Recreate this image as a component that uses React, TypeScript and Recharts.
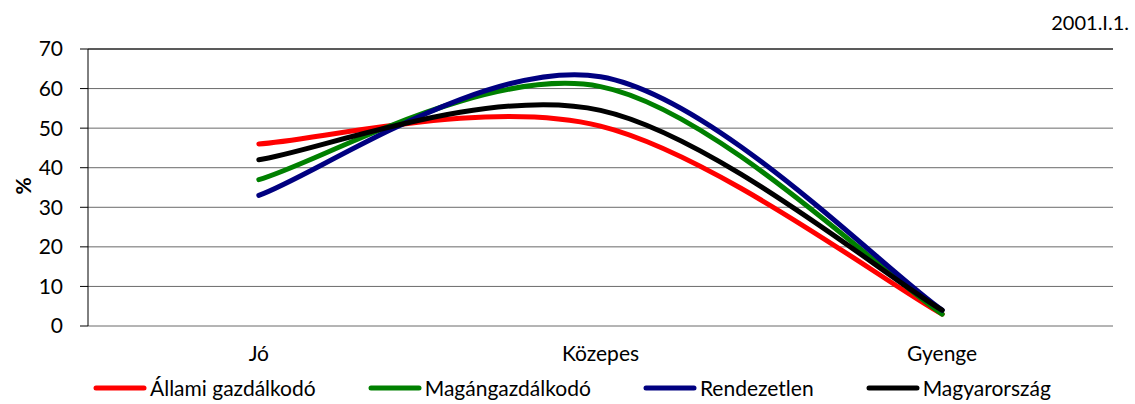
import React from 'react';
import {
  LineChart,
  Line,
  XAxis,
  YAxis,
  CartesianGrid,
  ReferenceLine,
} from 'recharts';

const categories = ['Jó', 'Közepes', 'Gyenge'];
const allami = [46, 50.5, 3];
const magan = [37, 60.5, 3];
const rendezetlen = [33, 63, 4];
const magyarorszag = [42, 54.5, 4];
const yTicks = [0, 10, 20, 30, 40, 50, 60, 70];
const boundaryTicks = [0, 1, 2, 3];
const dateLabel = '2001.I.1.';
const yLabel = '%';

const seriesList = [
  { key: 'allami', name: 'Állami gazdálkodó', color: '#FF0000', values: allami },
  { key: 'magan', name: 'Magángazdálkodó', color: '#008000', values: magan },
  { key: 'rendezetlen', name: 'Rendezetlen', color: '#000080', values: rendezetlen },
  { key: 'magyarorszag', name: 'Magyarország', color: '#000000', values: magyarorszag },
];

const data = categories.map((c, i) => {
  const row: Record<string, string | number> = { cat: c };
  seriesList.forEach((s) => {
    row[s.key] = s.values[i];
  });
  return row;
});

// Excel-like smoothed line (Catmull-Rom Bezier)
const excelSmooth = (context: any) => {
  let pts: number[][] = [];
  return {
    areaStart() {},
    areaEnd() {},
    lineStart() {
      pts = [];
    },
    point(x: number, y: number) {
      pts.push([+x, +y]);
    },
    lineEnd() {
      const n = pts.length;
      if (!n) return;
      context.moveTo(pts[0][0], pts[0][1]);
      if (n === 1) return;
      for (let i = 0; i < n - 1; i++) {
        const p0 = pts[Math.max(i - 1, 0)];
        const p1 = pts[i];
        const p2 = pts[i + 1];
        const p3 = pts[Math.min(i + 2, n - 1)];
        const c1x = p1[0] + (p2[0] - p0[0]) / 6;
        const c1y = p1[1] + (p2[1] - p0[1]) / 6;
        const c2x = p2[0] - (p3[0] - p1[0]) / 6;
        const c2y = p2[1] - (p3[1] - p1[1]) / 6;
        context.bezierCurveTo(c1x, c1y, c2x, c2y, p2[0], p2[1]);
      }
    },
  };
};

const FONT = 'Lato, "Open Sans", sans-serif';
const W = 1135;
const H = 404;
const M = { top: 49, right: 22, bottom: 48, left: 0 };
const Y_AXIS_W = 88;
const plotW = W - M.left - M.right - Y_AXIS_W;
const halfBand = plotW / categories.length / 2;

const LegendBar = () => (
  <div
    style={{
      position: 'absolute',
      left: 93,
      top: 375,
      display: 'flex',
      alignItems: 'center',
      fontFamily: FONT,
      fontSize: 21,
      color: '#000',
      whiteSpace: 'nowrap',
    }}
  >
    {seriesList.map((s, i) => (
      <div
        key={s.key}
        style={{ display: 'flex', alignItems: 'center', marginRight: i < seriesList.length - 1 ? 52 : 0 }}
      >
        <svg width={54} height={10} style={{ marginRight: 3 }}>
          <line x1={3} y1={5} x2={51} y2={5} stroke={s.color} strokeWidth={5} strokeLinecap="round" />
        </svg>
        <span>{s.name}</span>
      </div>
    ))}
  </div>
);

export default function App() {
  return (
    <div style={{ position: 'absolute', left: 0, top: 0, width: W, height: H, background: '#fff' }}>
      <LineChart width={W} height={H} data={data} margin={M}>
        <CartesianGrid horizontal vertical={false} stroke="#6a6a6a" strokeWidth={1} />
        <XAxis
          xAxisId="bounds"
          type="number"
          domain={[0, 3]}
          ticks={boundaryTicks}
          tick={false}
          tickSize={7}
          height={0}
          axisLine={{ stroke: '#000', strokeWidth: 1.2 }}
          tickLine={{ stroke: '#000' }}
          allowDataOverflow
        />
        <XAxis
          dataKey="cat"
          type="category"
          padding={{ left: halfBand, right: halfBand }}
          axisLine={false}
          tickLine={false}
          tickSize={0}
          tickMargin={20}
          height={30}
          tick={{ fontFamily: FONT, fontSize: 21, fill: '#000' }}
          interval={0}
        />
        <YAxis
          domain={[0, 70]}
          ticks={yTicks}
          width={Y_AXIS_W}
          tickSize={8}
          tickMargin={17}
          axisLine={{ stroke: '#000' }}
          tickLine={{ stroke: '#000' }}
          tick={{ fontFamily: FONT, fontSize: 21, fill: '#000' }}
          interval={0}
        />
        <ReferenceLine y={70} stroke="#000" />
        <ReferenceLine x={3} xAxisId="bounds" stroke="#000" />
        {seriesList.map((s) => (
          <Line
            key={s.key}
            dataKey={s.key}
            name={s.name}
            stroke={s.color}
            strokeWidth={5}
            strokeLinecap="round"
            type={excelSmooth as any}
            dot={false}
            activeDot={false}
            isAnimationActive={false}
          />
        ))}
      </LineChart>
      <div
        style={{
          position: 'absolute',
          left: 12,
          top: 176,
          width: 20,
          height: 20,
          display: 'flex',
          alignItems: 'center',
          justifyContent: 'center',
          transform: 'rotate(-90deg)',
          fontFamily: FONT,
          fontWeight: 'bold',
          fontSize: 21,
        }}
      >
        {yLabel}
      </div>
      <div
        style={{
          position: 'absolute',
          right: 6,
          top: 10,
          fontFamily: FONT,
          fontSize: 20,
          color: '#000',
        }}
      >
        {dateLabel}
      </div>
      <LegendBar />
    </div>
  );
}
